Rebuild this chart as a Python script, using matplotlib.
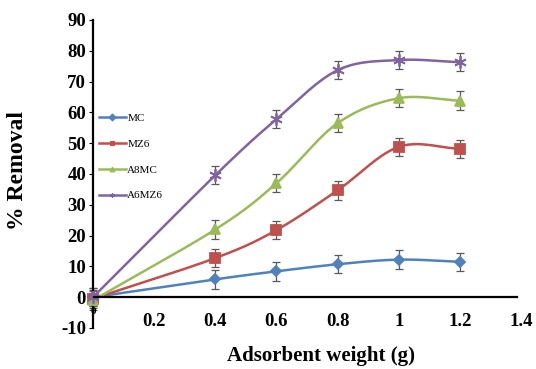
import numpy as np
import matplotlib
matplotlib.use("Agg")
import matplotlib.pyplot as plt

weights = [0.0, 0.4, 0.6, 0.8, 1.0, 1.2]
series_names = ["MC", "MZ6", "A8MC", "A6MZ6"]
mc = [0.0, 5.8, 8.4, 10.7, 12.2, 11.5]
mz6 = [-0.5, 12.7, 21.8, 34.7, 48.8, 48.2]
a8mc = [-1.0, 22.0, 37.0, 56.5, 64.6, 63.8]
a6mz6 = [0.0, 39.6, 57.8, 73.7, 77.0, 76.3]
err_mc = [3.0, 3.0, 3.0, 3.0, 3.0, 3.0]
err_mz6 = [3.0, 3.0, 3.0, 3.0, 3.0, 3.0]
err_a8mc = [3.0, 3.0, 3.0, 3.0, 3.0, 3.0]
err_a6mz6 = [3.0, 3.0, 3.0, 3.0, 3.0, 3.0]
x_ticks = [0.2, 0.4, 0.6, 0.8, 1.0, 1.2, 1.4]
x_ticklabels = ["0.2", "0.4", "0.6", "0.8", "1", "1.2", "1.4"]
y_ticks = [-10, 0, 10, 20, 30, 40, 50, 60, 70, 80, 90]

colors = ["#4F81BD", "#C0504D", "#9BBB59", "#8064A2"]
markers = ["D", "s", "^", (6, 2, 0)]
msizes = [5.5, 7, 7, 9]

plt.rcParams["font.family"] = ["Liberation Serif", "DejaVu Serif"]


def catmull_rom(x, y, n=30):
    x = np.asarray(x, float)
    y = np.asarray(y, float)
    px = np.concatenate([[2 * x[0] - x[1]], x, [2 * x[-1] - x[-2]]])
    py = np.concatenate([[2 * y[0] - y[1]], y, [2 * y[-1] - y[-2]]])
    xs, ys = [], []
    for i in range(1, len(px) - 2):
        t = np.linspace(0, 1, n, endpoint=False)
        p0, p1, p2, p3 = (np.array([px[j], py[j]]) for j in range(i - 1, i + 3))
        c1 = p1 + (p2 - p0) / 6.0
        c2 = p2 - (p3 - p1) / 6.0
        b = ((1 - t) ** 3)[:, None] * p1 + (3 * (1 - t) ** 2 * t)[:, None] * c1 \
            + (3 * (1 - t) * t ** 2)[:, None] * c2 + (t ** 3)[:, None] * p2
        xs.append(b[:, 0])
        ys.append(b[:, 1])
    xs.append([x[-1]])
    ys.append([y[-1]])
    return np.concatenate(xs), np.concatenate(ys)


fig = plt.figure(figsize=(5.36, 3.69), dpi=100)
ax = fig.add_axes([93 / 536, 1 - 328 / 369, (521 - 93) / 536, (328 - 20) / 369])
ax.set_xlim(0, 1.4)
ax.set_ylim(-10, 90)

all_y = [mc, mz6, a8mc, a6mz6]
all_e = [err_mc, err_mz6, err_a8mc, err_a6mz6]
handles = []
for name, yv, ev, c, m, ms in zip(series_names, all_y, all_e, colors, markers, msizes):
    sx, sy = catmull_rom(weights, yv)
    ax.plot(sx, sy, color=c, lw=1.8, zorder=3, clip_on=False)
    ax.errorbar(weights, yv, yerr=ev, fmt="none", ecolor="#5a5a5a", elinewidth=0.9,
                capsize=3, capthick=0.9, zorder=2, clip_on=False)
    ax.plot(weights, yv, linestyle="none", marker=m, color=c, markersize=ms,
            markeredgecolor=c, markeredgewidth=1.3, zorder=4, clip_on=False)
    h, = ax.plot([], [], color=c, lw=1.8, marker=m, markersize=3.5,
                 markeredgecolor=c, markeredgewidth=0.8)
    handles.append(h)

ax.axhline(0, color="black", lw=1.6, xmax=0.99, zorder=5)
ax.spines["top"].set_visible(False)
ax.spines["right"].set_visible(False)
ax.spines["bottom"].set_visible(False)
ax.spines["left"].set_linewidth(1.6)

ax.set_yticks(y_ticks)
ax.set_yticklabels([str(v) for v in y_ticks], fontsize=13.5, fontweight="bold")
ax.tick_params(axis="y", direction="out", length=3, width=0.8, pad=2)
ax.set_xticks(x_ticks)
ax.set_xticklabels(x_ticklabels, fontsize=13.5, fontweight="bold")
ax.tick_params(axis="x", length=0, pad=-11)
ax.text(0.0, -4.8, "0", ha="center", va="center", fontsize=8, fontweight="bold")

fig.text(18 / 536, 1 - 170 / 369, "% Removal", rotation=90, ha="center", va="center",
         fontsize=17, fontweight="bold")
fig.text(321 / 536, 1 - 356 / 369, "Adsorbent weight (g)", ha="center", va="center",
         fontsize=15, fontweight="bold")

fig.legend(handles, series_names, loc="upper left", bbox_to_anchor=(99 / 536, 1 - 113 / 369),
           frameon=False, fontsize=8, handlelength=2.4, handletextpad=0.15,
           labelspacing=1.45, borderpad=0, borderaxespad=0)

fig.savefig("out.png", dpi=100)
